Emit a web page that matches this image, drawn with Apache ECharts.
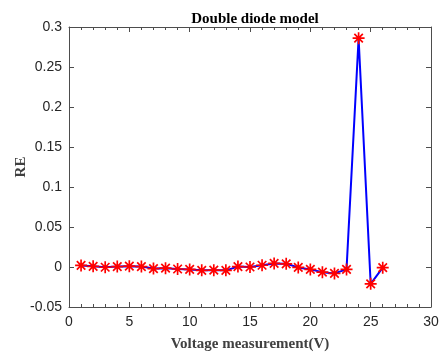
<!DOCTYPE html>
<html>
<head>
<meta charset="utf-8">
<script src="https://cdn.jsdelivr.net/npm/echarts@6/dist/echarts.min.js"></script>
<style>
  html, body { margin: 0; padding: 0; background: #fff; }
  #chart { width: 443px; height: 352px; }
</style>
</head>
<body>
<div id="chart"></div>
<script>
// voltage measurement index
const voltage = [1, 2, 3, 4, 5, 6, 7, 8, 9, 10, 11, 12, 13, 14, 15, 16, 17, 18, 19, 20, 21, 22, 23, 24, 25, 26];
// relative error, double diode model
const relError = [0.002, 0.0008, -0.0003, 0.0005, 0.001, 0.0005, -0.002, -0.0015, -0.0025, -0.003,
  -0.0042, -0.004, -0.0042, 0.0005, 0, 0.0022, 0.0045, 0.004, -0.0005, -0.003,
  -0.0065, -0.008, -0.003, 0.286, -0.021, -0.0008];

const xTicks = [0, 5, 10, 15, 20, 25, 30];
const yTicks = [-0.05, 0, 0.05, 0.1, 0.15, 0.2, 0.25, 0.3];

// MATLAB style '*' marker
const asterisk = 'path://M8.6 0L11.4 0L11.4 20L8.6 20Z' +
  'M0 8.6L20 8.6L20 11.4L0 11.4Z' +
  'M3.93 1.93L18.07 16.07L16.07 18.07L1.93 3.93Z' +
  'M16.07 1.93L18.07 3.93L3.93 18.07L1.93 16.07Z';

const axisColor = '#4d4d4d';
const labelFont = { color: '#262626', fontFamily: 'Liberation Sans', fontSize: 14 };
const frameLine = { show: true, onZero: false, lineStyle: { color: axisColor, width: 1 } };
const majorTick = { show: true, inside: true, length: 5, lineStyle: { color: axisColor } };
const minorTick = { show: true, splitNumber: 5, length: 3, lineStyle: { color: axisColor } };

const chart = echarts.init(document.getElementById('chart'));

chart.setOption({
  animation: false,
  title: {
    text: 'Double diode model',
    left: 250,
    textAlign: 'center',
    top: 7,
    textStyle: { fontFamily: 'Liberation Serif', fontWeight: 'bold', fontSize: 15, color: '#000' },
  },
  grid: { left: 69, right: 12, top: 27, bottom: 45, outerBoundsMode: 'none' },
  xAxis: [
    {
      type: 'value',
      min: xTicks[0],
      max: xTicks[xTicks.length - 1],
      interval: 5,
      name: 'Voltage measurement(V)',
      nameLocation: 'middle',
      nameGap: 30,
      nameMoveOverlap: false,
      nameTextStyle: { fontFamily: 'Liberation Serif', fontWeight: 'bold', fontSize: 15, color: '#404040' },
      axisLine: frameLine,
      axisTick: majorTick,
      minorTick: minorTick,
      axisLabel: Object.assign({ margin: 8 }, labelFont),
      splitLine: { show: false },
    },
    {
      type: 'value',
      position: 'top',
      min: xTicks[0],
      max: xTicks[xTicks.length - 1],
      interval: 5,
      axisLine: frameLine,
      axisTick: majorTick,
      minorTick: minorTick,
      axisLabel: { show: false },
      splitLine: { show: false },
    },
  ],
  yAxis: [
    {
      type: 'value',
      min: yTicks[0],
      max: yTicks[yTicks.length - 1],
      interval: 0.05,
      name: 'RE',
      nameLocation: 'middle',
      nameGap: 40,
      nameMoveOverlap: false,
      nameTextStyle: { fontFamily: 'Liberation Serif', fontWeight: 'bold', fontSize: 15, color: '#404040' },
      axisLine: frameLine,
      axisTick: majorTick,
      axisLabel: Object.assign({ margin: 7, formatter: (v) => String(Math.round(v * 100) / 100) }, labelFont),
      splitLine: { show: false },
    },
    {
      type: 'value',
      position: 'right',
      min: yTicks[0],
      max: yTicks[yTicks.length - 1],
      interval: 0.05,
      axisLine: frameLine,
      axisTick: majorTick,
      axisLabel: { show: false },
      splitLine: { show: false },
    },
  ],
  series: [
    {
      type: 'line',
      data: voltage.map((v, i) => [v, relError[i]]),
      symbol: asterisk,
      symbolSize: 12,
      showAllSymbol: true,
      lineStyle: { color: '#0000ff', width: 2 },
      itemStyle: { color: '#ff0000' },
    },
  ],
});
</script>
</body>
</html>
